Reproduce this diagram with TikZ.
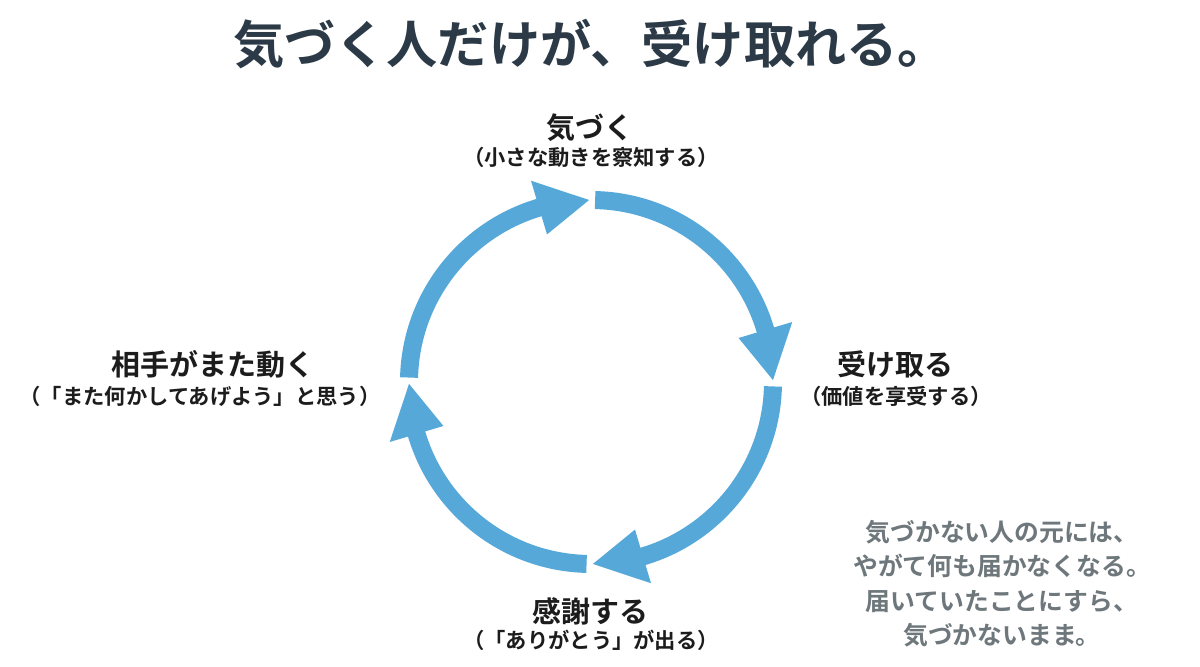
\documentclass[tikz,border=0pt]{standalone}
\usepackage{fontspec}
\setmainfont{Noto Sans CJK JP Bold}
\newfontfamily\jpb{Noto Sans CJK JP Bold}
\definecolor{arrowblue}{HTML}{56A8D9}
\definecolor{titlecol}{HTML}{2B3A46}
\definecolor{labelcol}{HTML}{1C1C1C}
\definecolor{notecol}{HTML}{6E777B}
\tikzset{
  titletext/.style={anchor=base, text=titlecol, font=\jpb\fontsize{25.6pt}{29pt}\selectfont, inner sep=0pt},
  mainlabel/.style={anchor=base, text=labelcol, font=\jpb\fontsize{14.5pt}{17pt}\selectfont, inner sep=0pt},
  sublabel/.style={anchor=base, text=labelcol, font=\jpb\fontsize{10.65pt}{13pt}\selectfont, inner sep=0pt},
  noteline/.style={anchor=base, text=notecol, font=\jpb\fontsize{12.4pt}{15pt}\selectfont, inner sep=0pt},
  shaft/.style={draw=arrowblue, line width=9pt, line cap=butt},
  headtri/.style={fill=arrowblue, draw=none}
}
\newcommand{\cyclearrow}[2]{%
  % #1 = start angle, #2 = tip angle (clockwise)
  \pgfmathsetmacro{\shaftend}{#2+12}
  \pgfmathsetmacro{\wingang}{#2+16}
  \draw[shaft] ($(C)+(#1:182)$) arc[start angle=#1, end angle=\shaftend, radius=182];
  \fill[headtri] ($(C)+(#2:182)$) -- ($(C)+(\wingang:154)$) -- ($(C)+(\wingang:210)$) -- cycle;
}
\usetikzlibrary{calc}
\begin{document}
\begin{tikzpicture}[x=0.5pt,y=0.5pt]
\useasboundingbox (0,0) rectangle (1200,667);
\fill[white] (0,0) rectangle (1200,667);
\coordinate (C) at (591,285);

\node[titletext] (title) at (591,603) {気づく人だけが、受け取れる。};

\node[mainlabel] (n1) at (590,528) {気づく};
\node[sublabel] (n1s) at (591,501) {（小さな動きを察知する）};
\node[mainlabel] (n2) at (895,291) {受け取る};
\node[sublabel] (n2s) at (896,262) {（価値を享受する）};
\node[mainlabel] (n3) at (590,44) {感謝する};
\node[sublabel] (n3s) at (591,18) {（「ありがとう」が出る）};
\node[mainlabel] (n4) at (213,291) {相手がまた動く};
\node[sublabel] (n4s) at (200,262) {（「また何かしてあげよう」と思う）};

\cyclearrow{88.7}{0.6}
\cyclearrow{-1.4}{-89.4}
\cyclearrow{-91.4}{-179.4}
\cyclearrow{178.6}{90.6}

\node[noteline] (t1) at (1002,125) {気づかない人の元には、};
\node[noteline] (t2) at (1002,91) {やがて何も届かなくなる。};
\node[noteline] (t3) at (1002,56) {届いていたことにすら、};
\node[noteline] (t4) at (1002,22) {気づかないまま。};
\end{tikzpicture}
\end{document}
